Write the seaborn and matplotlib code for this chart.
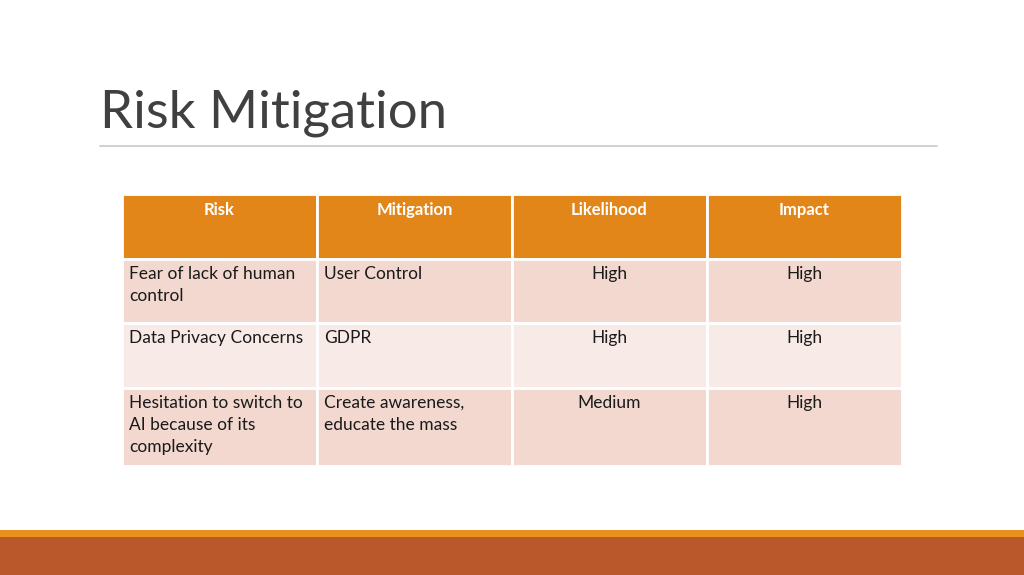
import matplotlib
matplotlib.use("Agg")
import matplotlib.pyplot as plt
from matplotlib.patches import Rectangle
import seaborn as sns

headers = ["Risk", "Mitigation", "Likelihood", "Impact"]
risks = ["Fear of lack of human\ncontrol", "Data Privacy Concerns",
         "Hesitation to switch to\nAI because of its\ncomplexity"]
mitigations = ["User Control", "GDPR", "Create awareness,\neducate the mass"]
likelihood = ["High", "High", "Medium"]
impact = ["High", "High", "High"]

sns.set_theme(style="white")
plt.rcParams['font.family'] = ['Lato', 'DejaVu Sans']

fig = plt.figure(figsize=(10.24, 5.75), dpi=100)
ax = fig.add_axes([0, 0, 1, 1])
ax.set_xlim(0, 1024)
ax.set_ylim(575, 0)
ax.axis("off")

ax.text(100, 113, "Risk Mitigation", fontsize=38, color="#404040", va="center", ha="left")
ax.plot([100, 937], [146, 146], color="#C8C8C8", lw=1.2)

ax.add_patch(Rectangle((0, 530), 1024, 7, color="#E8921E", lw=0))
ax.add_patch(Rectangle((0, 537), 1024, 38, color="#BA572B", lw=0))

x0, colw = 122, 195
rows_y = [(194, 259), (259, 323), (323, 388), (388, 466)]
fills = ["#E3861A", "#F2D8CF", "#F8EAE6", "#F2D8CF"]
body = list(zip(risks, mitigations, likelihood, impact))
for r, ((ya, yb), fc) in enumerate(zip(rows_y, fills)):
    for c in range(4):
        xa = x0 + c * colw
        ax.add_patch(Rectangle((xa, ya), colw, yb - ya, facecolor=fc, edgecolor="white", lw=2))
        if r == 0:
            ax.text(xa + colw / 2, ya + 16, headers[c], ha="center", va="center",
                    color="white", fontsize=12, fontweight="bold")
        else:
            txt = body[r - 1][c]
            if c < 2:
                ax.text(xa + 7, ya + 7, txt, ha="left", va="top", color="#1a1a1a",
                        fontsize=12.5, linespacing=1.45)
            else:
                ax.text(xa + colw / 2, ya + 7, txt, ha="center", va="top", color="#1a1a1a",
                        fontsize=12.5)

fig.savefig("out.png", dpi=100)
